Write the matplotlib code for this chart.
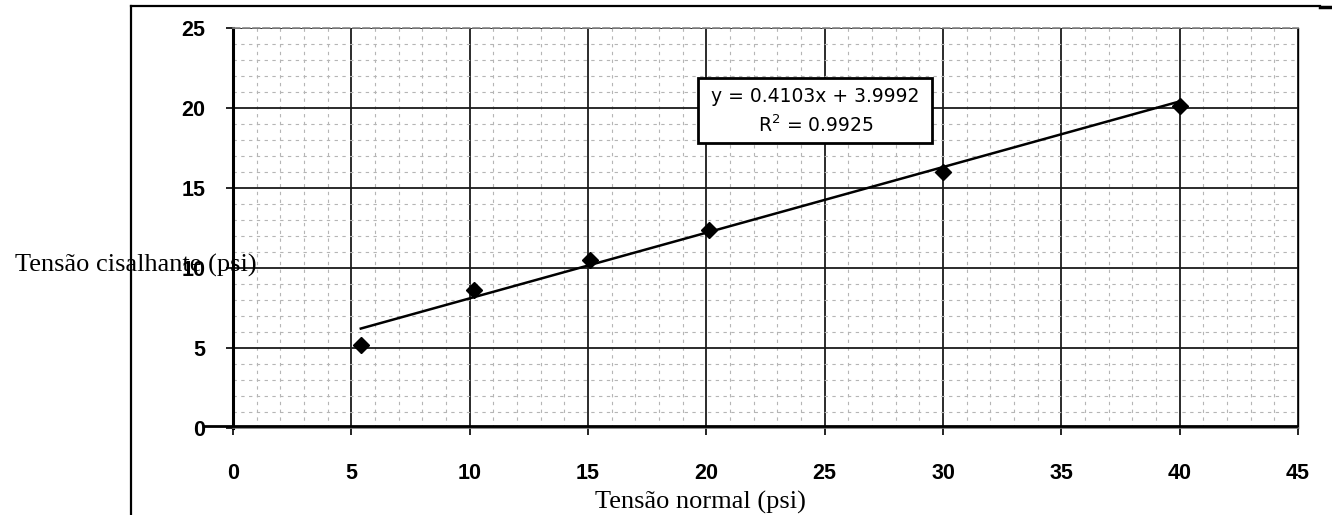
import numpy as np
import matplotlib.pyplot as plt
from matplotlib.patches import Rectangle
from matplotlib.lines import Line2D

# normal stress vs shear stress readings (psi)
normal = [5.4, 10.2, 15.1, 20.1, 30.0, 40.0]
shear = [5.2, 8.6, 10.5, 12.4, 16.0, 20.1]

# linear trendline reported on the chart
slope = 0.4103
intercept = 3.9992
r2 = 0.9925

x_ticks = np.arange(0, 50, 5)
y_ticks = np.arange(0, 30, 5)

W, H = 1332, 515
fig = plt.figure(figsize=(W / 100, H / 100), dpi=100)

# plot area (pixel positions of the scanned chart)
ax = fig.add_axes([233 / W, 1 - 428 / H, (1298 - 233) / W, (428 - 28) / H])
ax.set_xlim(0, 45)
ax.set_ylim(0, 25)

# grid: major every 5, minor every 1
ax.set_xticks(x_ticks)
ax.set_yticks(y_ticks)
ax.set_xticks(np.arange(0, 46, 1), minor=True)
ax.set_yticks(np.arange(0, 26, 1), minor=True)
ax.grid(which='major', color='#1a1a1a', linewidth=1.3)
ax.grid(which='minor', color='#b5b5b5', linewidth=0.8, linestyle=(0, (3, 4)))
ax.set_axisbelow(True)

ax.tick_params(which='minor', length=0)
ax.tick_params(axis='x', which='major', direction='out', length=5, width=1.2,
               pad=20)
ax.tick_params(axis='y', which='major', direction='out', length=5, width=1.2,
               pad=15)
for lab in ax.get_xticklabels() + ax.get_yticklabels():
    lab.set_fontweight('bold')
    lab.set_family('Liberation Sans')
    lab.set_fontsize(15.5)

ax.spines['left'].set_linewidth(2.2)
ax.spines['bottom'].set_linewidth(1.2)
ax.spines['bottom'].set_color('#777777')
ax.spines['right'].set_linewidth(1.0)
ax.spines['top'].set_color('#888888')
ax.spines['top'].set_linestyle((0, (4, 2)))
ax.spines['top'].set_linewidth(1.2)

# thick zero line running slightly left of the axis
ax.plot([-1.2, 44.9], [0.12, 0.12], color='black', linewidth=2,
        clip_on=False, zorder=5)

# data and trendline
ax.plot(normal, shear, 'D', color='black', markersize=8, zorder=6)
xf = np.array([min(normal), max(normal)])
ax.plot(xf, slope * xf + intercept, color='black', linewidth=1.8, zorder=6)

# equation box
ax.add_patch(Rectangle((19.65, 17.8), 9.9, 4.06, facecolor='white',
                       edgecolor='black', linewidth=2, zorder=7))
ax.text(24.6, 20.7, f'y = {slope}x + {intercept}', ha='center', va='center',
        fontsize=13.5, zorder=8)
ax.text(24.6, 18.95, f'R$^2$ = {r2}', ha='center', va='center',
        fontsize=13.5, zorder=8)

# axis titles laid over the scan
fig.text(15 / W, 1 - 265 / H, 'Tensão cisalhante (psi)', family='Liberation Serif',
         fontsize=19, ha='left', va='center')
fig.text(700 / W, 1 - 502 / H, 'Tensão normal (psi)', family='Liberation Serif',
         fontsize=19, ha='center', va='center')

# page frame lines
fig.add_artist(Line2D([131 / W, 131 / W], [0, 1 - 6 / H], color='black', linewidth=1.6))
fig.add_artist(Line2D([131 / W, 1320 / W], [1 - 6 / H, 1 - 6 / H], color='black', linewidth=1.6))
fig.add_artist(Line2D([1320 / W, 1332 / W], [1 - 7 / H, 1 - 7 / H], color='black', linewidth=2.5))

fig.savefig('out.png', dpi=100)
